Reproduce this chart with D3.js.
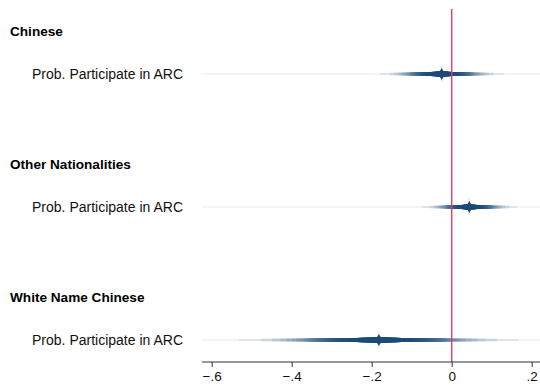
<!DOCTYPE html>
<html>
<head>
<meta charset="utf-8">
<script src="https://cdn.jsdelivr.net/npm/d3@7"></script>
<style>
  body { margin: 0; background: #fff; }
  svg { display: block; font-family: "Liberation Sans", Arial, sans-serif; }
</style>
</head>
<body>
<svg width="540" height="388"></svg>
<script>
// groups, coefficient label and estimates
var groups = ["Chinese", "Other Nationalities", "White Name Chinese"];
var coefLabel = "Prob. Participate in ARC";
var estimates = [-0.025, 0.044, -0.182];
var stdErrors = [0.060, 0.046, 0.136];
var tickValues = [-0.6, -0.4, -0.2, 0, 0.2];
var tickLabels = ["\u2212.6", "\u2212.4", "\u2212.2", "0", ".2"];

var svgWidth = 540, svgHeight = 388;
var plotLeft = 202, plotRight = 540, plotTop = 9, axisY = 362;
var navy = "#1b4a77";

var svg = d3.select("svg")
    .attr("width", svgWidth)
    .attr("height", svgHeight);

var x = d3.scaleLinear()
    .domain([-0.6, 0.2])
    .range([211.7, 531.7]);

var y = d3.scaleLinear()
    .domain([0, groups.length - 1])
    .range([74, 340]);

// smooth CI: many nested levels, outer first
var levels = d3.range(1, 100, 2);

// inverse normal cdf (Acklam approximation)
function zq(p) {
    var a = [-39.6968302866538, 220.946098424521, -275.928510446969, 138.357751867269, -30.6647980661472, 2.50662827745924];
    var b = [-54.4760987982241, 161.585836858041, -155.698979859887, 66.8013118877197, -13.2806815528857];
    var c = [-0.00778489400243029, -0.322396458041136, -2.40075827716184, -2.54973253934373, 4.37466414146497, 2.93816398269878];
    var d = [0.00778469570904146, 0.32246712907004, 2.445134137143, 3.75440866190742];
    var q, r;
    if (p > 1 - 0.02425) {
        q = Math.sqrt(-2 * Math.log(1 - p));
        return -(((((c[0]*q+c[1])*q+c[2])*q+c[3])*q+c[4])*q+c[5]) / ((((d[0]*q+d[1])*q+d[2])*q+d[3])*q+1);
    }
    q = p - 0.5; r = q * q;
    return (((((a[0]*r+a[1])*r+a[2])*r+a[3])*r+a[4])*r+a[5])*q / (((((b[0]*r+b[1])*r+b[2])*r+b[3])*r+b[4])*r+1);
}

// light grid line per coefficient
svg.selectAll("line.grid")
    .data(groups)
    .enter()
    .append("line")
    .attr("x1", plotLeft)
    .attr("x2", plotRight)
    .attr("y1", function(d, i) { return y(i); })
    .attr("y2", function(d, i) { return y(i); })
    .attr("stroke", "#edf2f4")
    .attr("stroke-width", 1.6);

var mix = d3.interpolateRgb("#ffffff", navy);

groups.forEach(function(g, i) {
    var lv = levels.slice().reverse();
    svg.append("g").selectAll("line")
        .data(lv)
        .enter()
        .append("line")
        .attr("x1", function(L) { return x(estimates[i] - zq(0.5 + L / 200) * stdErrors[i]); })
        .attr("x2", function(L) { return x(estimates[i] + zq(0.5 + L / 200) * stdErrors[i]); })
        .attr("y1", y(i))
        .attr("y2", y(i))
        .attr("stroke", function(L) {
            var t = (L - 1) / 98;
            return mix(0.15 + 0.85 * (1 - Math.pow(t, 5)));
        })
        .attr("stroke-width", function(L) {
            var t = (L - 1) / 98;
            return 2.2 + 3 * (1 - t);
        });
});

// point markers with faint vertical halo
svg.selectAll("line.halo")
    .data(estimates)
    .enter()
    .append("line")
    .attr("x1", function(d) { return x(d); })
    .attr("x2", function(d) { return x(d); })
    .attr("y1", function(d, i) { return y(i) - 8; })
    .attr("y2", function(d, i) { return y(i) + 8; })
    .attr("stroke", navy)
    .attr("stroke-opacity", 0.12)
    .attr("stroke-width", 2);

svg.selectAll("path.marker")
    .data(estimates)
    .enter()
    .append("path")
    .attr("d", d3.symbol().type(d3.symbolDiamond).size(40))
    .attr("transform", function(d, i) { return "translate(" + x(d) + "," + y(i) + ")"; })
    .attr("fill", navy);

svg.selectAll("circle.marker")
    .data(estimates)
    .enter()
    .append("circle")
    .attr("cx", function(d) { return x(d); })
    .attr("cy", function(d, i) { return y(i); })
    .attr("r", 3.4)
    .attr("fill", navy);

// zero reference line
svg.append("line")
    .attr("x1", x(0))
    .attr("x2", x(0))
    .attr("y1", plotTop)
    .attr("y2", axisY)
    .attr("stroke", "#d2426a")
    .attr("stroke-width", 1.4);

// group headings and coefficient labels
svg.selectAll("text.head")
    .data(groups)
    .enter()
    .append("text")
    .attr("x", 10)
    .attr("y", function(d, i) { return y(i) - 43; })
    .attr("dy", "0.35em")
    .style("font-size", "13.6px")
    .style("font-weight", "bold")
    .attr("fill", "#000")
    .text(function(d) { return d; });

svg.selectAll("text.coef")
    .data(groups)
    .enter()
    .append("text")
    .attr("x", 183)
    .attr("y", function(d, i) { return y(i); })
    .attr("dy", "0.35em")
    .attr("text-anchor", "end")
    .style("font-size", "14px")
    .attr("fill", "#111")
    .text(coefLabel);

// x axis
var axis = svg.append("g")
    .attr("transform", "translate(0," + axisY + ")")
    .call(d3.axisBottom(x)
        .tickValues(tickValues)
        .tickFormat(function(d, i) { return tickLabels[i]; })
        .tickSize(5)
        .tickPadding(4));
axis.select(".domain").remove();
axis.append("line")
    .attr("x1", plotLeft)
    .attr("x2", plotRight)
    .attr("stroke", "#333")
    .attr("stroke-width", 1);
axis.selectAll(".tick line").attr("stroke", "#333");
axis.selectAll(".tick text")
    .style("font-size", "13.5px")
    .style("font-family", "'Liberation Sans', Arial, sans-serif")
    .attr("fill", "#111");
</script>
</body>
</html>
